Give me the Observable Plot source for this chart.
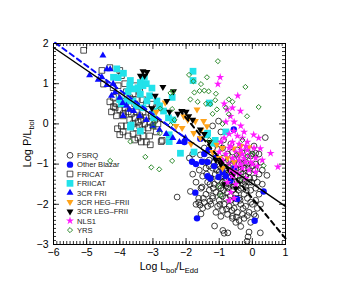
<!DOCTYPE html>
<html><head><meta charset="utf-8">
<script src="https://cdn.jsdelivr.net/npm/d3@7"></script>
<script src="https://cdn.jsdelivr.net/npm/@observablehq/plot@0.6"></script>
<style>
html,body{margin:0;padding:0;background:#fff;}
#chart{position:relative;width:356px;height:285px;}
</style></head><body><div id="chart"></div>
<script>
// ---- data: [Log Lbol/LEdd, Log P/Lbol] ----
const fsrq = [
[-2.27,-1.82],[-1.87,-1.68],[-1.52,-1.57],[-1.55,-2.24],[-1.62,-1.95],[-1.45,-1.95],[-1.35,-2.05],[-1.14,-2.54],[-0.89,-2.65],[-0.85,-2.72],
[-0.74,-2.71],[-0.13,-2.81],[-0.16,-2.92],[0.24,-2.71],[0.39,-0.34],[0.44,-1.28],[-1.02,0.07],[-1.57,-0.77],[-1.45,-0.6],[-1.8,-0.75],
[-1.9,-0.85],[-0.95,-0.2],[-0.2,-0.95],[0.05,-0.55],[0.2,-0.75],[0.3,-1.15],[0.25,-0.95],[-0.05,-2.45],[0.1,-2.3],[0.15,-2.1],
[-0.35,-2.55],[-0.5,-2.45],[-0.6,-2.3],[-0.95,-2.3],[-1.1,-2.2],[-1.25,-2.0],[-1.2,-1.85],[-1.4,-1.75],[-1.7,-2.0],[-1.5,-2.1],
[-1.3,-0.9],[-1.2,-1.1],[-1.1,-0.8],[-1.05,-1.0],[-1.0,-1.2],[-0.95,-0.9],[-0.9,-1.05],[-0.85,-1.25],[-0.8,-0.95],[-0.75,-1.15],
[-0.7,-1.35],[-0.65,-1.05],[-0.6,-1.25],[-0.55,-0.9],[-0.5,-1.1],[-0.45,-1.3],[-0.4,-1.0],[-0.35,-1.2],[-0.3,-0.85],[-0.25,-1.1],
[-0.2,-1.3],[-0.15,-1.0],[-0.1,-1.2],[-0.05,-0.8],[0.0,-1.05],[-1.25,-1.35],[-1.15,-1.5],[-1.05,-1.4],[-0.95,-1.6],[-0.9,-1.45],
[-0.8,-1.55],[-0.75,-1.7],[-0.7,-1.5],[-0.6,-1.65],[-0.55,-1.45],[-0.5,-1.75],[-0.45,-1.55],[-0.4,-1.85],[-0.35,-1.6],[-0.3,-1.4],
[-0.25,-1.75],[-0.2,-1.55],[-0.15,-1.85],[-0.1,-1.45],[-0.05,-1.65],[0.05,-1.35],[0.1,-1.6],[-1.3,-1.65],[-1.2,-1.8],[-1.1,-1.7],
[-1.0,-1.9],[-0.9,-1.8],[-0.85,-2.0],[-0.8,-1.85],[-0.7,-2.05],[-0.65,-1.9],[-0.55,-2.1],[-0.5,-1.95],[-0.45,-2.2],[-0.35,-2.0],
[-0.3,-2.25],[-0.2,-2.05],[-0.25,-2.35],[-0.1,-2.2],[0.0,-2.0],[-0.75,-2.25],[-0.9,-2.15],[-1.05,-2.05],[-0.6,-2.35],[-0.4,-2.4],
[-1.2,-0.6],[-0.9,-0.6],[-0.75,-0.75],[-0.6,-0.7],[-0.45,-0.65],[-0.3,-0.6],[-0.15,-0.7],[0.0,-0.75],[-1.0,-0.5],[-0.65,-0.5],
[-1.4,-1.1],[-1.5,-1.3],[-1.35,-1.45],[-1.6,-1.15],[-1.45,-0.95],[-1.55,-1.6],[-1.7,-1.45],[-1.8,-1.25],[0.1,-1.0],[0.2,-1.25],
[0.15,-1.45],[0.3,-1.5],[0.2,-1.75],[0.1,-1.9],[0.25,-2.0],[0.05,-2.25],[-1.2,-0.05],[-0.87,-0.4],[0.1,-0.73],[-0.1,-2.69],
[-1.15,-0.95],[-1.08,-1.15],[-0.98,-1.05],[-0.92,-1.3],[-0.88,-0.85],[-0.82,-1.1],[-0.78,-1.4],[-0.72,-0.9],[-0.68,-1.2],[-0.62,-1.45],
[-0.58,-1.0],[-0.52,-1.3],[-0.48,-0.85],[-0.42,-1.15],[-0.38,-1.4],[-0.32,-1.0],[-0.28,-1.25],[-0.22,-1.45],[-0.12,-1.1],[-0.08,-1.35],
[-1.12,-1.25],[-1.02,-1.55],[-0.97,-1.75],[-0.87,-1.65],[-0.83,-1.4],[-0.72,-1.6],[-0.67,-1.8],[-0.57,-1.55],[-0.52,-1.85],[-0.42,-1.65],
[-0.37,-1.9],[-0.27,-1.5],[-0.18,-1.65],[-1.18,-1.6],[-1.28,-1.5],[-1.38,-1.25],[-1.3,-1.05],[-1.62,-1.85],[-1.48,-1.85],[-1.28,-1.92],
[-1.58,-2.02],[-0.98,-2.0],[-0.78,-2.12],[-0.62,-2.15],[-0.48,-2.32],[-0.28,-2.1],[-0.15,-2.28],[-0.05,-1.95],[-0.02,-1.45],[0.08,-1.15]
];
const otherBlazar = [
[-0.56,-0.14],[-1.57,-0.37],[-1.82,-0.94],[-1.7,-1.0],[-1.32,-0.65],[-1.52,-0.94],[-1.35,-0.95],[-1.27,-1.36],[-1.35,-1.3],[-1.02,-1.32],
[-0.66,-1.41],[-0.8,-1.3],[-0.46,-1.87],[-1.72,-1.71],[-1.67,-2.35],[0.07,-2.41],[0.34,-1.68],[-0.9,-1.2],[-1.15,-1.05],[-0.55,-1.1],
[-1.45,-0.75],[-2.05,-0.45],[-1.1,-0.85]
];
const fricat = [
[-5.09,1.83],[-4.54,1.33],[-4.3,1.4],[-4.0,1.33],[-3.95,1.2],[-4.49,0.99],[-4.2,0.9],[-4.05,0.95],[-3.85,1.0],[-3.55,0.95],
[-4.19,0.66],[-4.3,0.55],[-4.1,0.5],[-4.14,0.4],[-3.95,0.7],[-3.8,0.8],[-3.7,0.65],[-3.6,0.75],[-3.5,0.6],[-3.4,0.8],
[-3.3,0.6],[-3.2,0.5],[-3.02,0.49],[-2.9,0.4],[-4.0,0.35],[-3.9,0.2],[-3.85,0.4],[-3.75,0.3],[-3.7,0.1],[-3.65,0.25],
[-3.6,0.0],[-3.55,0.15],[-3.5,0.3],[-3.5,-0.1],[-3.45,0.05],[-3.4,0.2],[-3.4,-0.05],[-3.35,0.1],[-3.3,-0.15],[-3.3,0.3],
[-3.25,0.0],[-3.2,0.15],[-3.15,-0.1],[-3.1,0.05],[-3.05,0.2],[-3.0,-0.05],[-2.95,0.1],[-3.8,-0.05],[-3.9,-0.2],[-4.07,-0.12],
[-4.0,-0.27],[-3.75,-0.3],[-3.6,-0.25],[-3.45,-0.35],[-3.3,-0.3],[-3.2,-0.45],[-3.08,-0.52],[-2.75,-0.44],[-2.72,-0.41],[-3.1,-0.3],
[-2.9,-0.2],[-2.85,0.0],[-3.65,0.45],[-3.55,0.5],[-4.1,0.2],[-4.25,0.3],[-3.95,-0.05],[-3.55,-0.4],[-3.35,-0.45],[-4.19,0.43],
[-3.89,0.25]
];
const friicat = [
[-4.09,1.37],[-3.89,1.26],[-4.19,1.16],[-4.05,1.15],[-3.68,1.08],[-3.38,1.03],[-3.26,1.16],[-3.3,0.95],[-3.58,0.87],[-3.45,0.9],
[-3.38,0.74],[-3.03,0.89],[-3.78,0.57],[-3.6,0.57],[-3.18,0.57],[-2.88,0.57],[-2.98,0.32],[-2.68,0.32],[-2.42,0.66],[-1.79,1.31],
[-1.79,1.08],[-2.53,0.15],[-2.4,0.1],[-3.68,-0.08],[-3.38,-0.18],[-2.98,0.15],[-2.51,-0.27],[-2.51,-0.44],[-2.17,-0.73],[-1.37,-0.27],
[-1.17,-0.48],[-3.5,0.45],[-3.3,0.4],[-3.75,0.8],[-3.1,0.7],[-2.8,0.45],[-3.7,0.95],[-4.0,0.6],[-3.95,0.5],[-3.2,1.0],
[-1.76,-0.7],[-0.8,-0.2],[-1.3,0.52],[-1.35,-0.23],[-1.12,-0.41],[-3.66,-0.03]
];
const fri3cr = [
[-4.51,1.70],[-4.91,1.21],[-4.54,1.16],[-4.39,1.36],[-4.29,1.36],[-4.65,1.1],[-4.39,0.97],[-4.2,1.0],[-4.14,0.79],[-4.25,0.7],
[-3.91,0.52],[-3.8,0.45],[-3.7,0.35],[-3.58,0.32],[-3.4,0.2],[-3.2,0.1],[-3.0,-0.05],[-2.8,-0.15],[-2.6,-0.25],[-2.4,-0.35],
[-2.02,-0.35],[-2.2,-0.45],[-3.9,0.2],[-4.0,0.65]
];
const hegFrii = [
[-2.63,0.53],[-1.67,0.36],[-2.07,0.19],[-1.95,0.1],[-1.72,0.07],[-2.12,-0.10],[-1.77,-0.23],[-1.47,0.07],[-1.57,-0.35],[-1.37,-0.06],
[-1.07,-0.52],[-0.9,-0.6],[-0.56,-0.61],[-0.35,-0.55],[-0.11,-0.58],[-0.75,-0.85],[-0.55,-0.95],[-0.9,-1.1],[-1.3,-0.45],[-1.85,-0.5],
[-2.3,-0.05],[-2.9,0.3],[-1.55,-0.15],[-0.6,-1.2],[-1.0,-0.85],[-0.4,-0.75],[-1.2,-0.7]
];
const legFrii = [
[-3.30,1.31],[-3.18,1.29],[-3.25,1.2],[-3.38,1.2],[-2.70,0.92],[-2.38,0.81],[-2.58,0.57],[-2.93,0.70],[-3.03,0.39],[-2.12,0.32],
[-2.0,0.3],[-1.92,0.19],[-1.8,0.1],[-1.57,-0.14],[-1.45,-0.25],[-1.3,-0.45],[-0.95,-1.0],[-0.7,-1.15],[-0.6,-1.3],[-0.85,-1.5],
[-0.5,-1.6],[-1.1,-0.9],[-2.5,0.3],[-2.25,0.25]
];
const nls1 = [
[-1.04,0.99],[-0.97,1.16],[-0.76,0.36],[-0.44,0.70],[-0.66,0.19],[-0.36,0.32],[-0.8,0.05],[-0.56,-0.18],[-0.7,-0.25],[-0.45,-0.3],
[-0.3,-0.35],[0.04,-0.27],[0.19,-0.35],[0.24,-0.61],[0.55,-0.73],[0.77,-1.07],[-0.85,-0.35],[-0.6,-0.45],[-0.4,-0.5],[-0.2,-0.55],
[-0.7,-0.6],[-0.5,-0.7],[-0.3,-0.75],[-0.1,-0.8],[0.1,-0.85],[-0.8,-0.75],[-0.6,-0.85],[-0.4,-0.9],[-0.2,-0.95],[0.0,-1.0],
[-0.7,-1.0],[-0.5,-1.05],[-0.3,-1.1],[-0.1,-1.15],[0.1,-1.2],[-0.6,-1.3],[-0.4,-1.25],[-0.2,-1.35],[-0.75,-1.45],
[-0.5,-1.5],[-0.65,-1.7],[-0.7,-1.9],[-0.55,-1.85],[-0.9,-0.9],[-1.0,-0.7],[-0.95,-0.45],[-0.25,-0.2],
[-0.15,-0.45],[0.05,-0.6],[-0.35,-0.05],[-0.55,0.05],[-0.85,0.5],[-0.6,0.4],
[-0.65,-0.55],[-0.45,-0.8],[-0.35,-0.65],[-0.25,-0.85],[-0.15,-0.65],[-0.05,-0.95],[-0.55,-1.2],[-0.35,-1.0],
[-0.65,-1.15],[0.15,-1.05],[0.3,-0.9]
];
const yrs = [
[-1.04,1.56],[-1.91,1.22],[-1.78,1.06],[-1.55,0.99],[-1.37,1.16],[-0.21,0.92],[-1.59,0.82],[-1.45,0.83],[-1.32,0.81],[-1.75,0.78],
[-1.87,0.61],[-1.12,0.59],[-1.27,0.49],[-1.07,0.36],[-0.71,0.61],[-0.6,0.55],[-0.71,0.24],[-0.16,0.19],[0.19,0.42],[-2.78,0.38],
[-2.98,-0.06],[-3.68,-0.44],[-4.29,-0.92],[-3.23,-0.82],[-3.05,-1.08],[-2.81,-1.13],[-2.42,-0.92],[-2.79,-0.23],[-1.4,0.5],[-1.2,0.25],
[-0.9,0.0],[-0.48,-0.77],[-0.15,-0.8],[0.0,-0.75],[0.34,-1.04],[-0.96,-1.78],[-0.7,-1.05],[-1.65,0.55],[-1.1,0.75],[-0.8,0.4],
[-2.35,0.1],[-0.3,-0.4],[-1.0,-1.55],[-0.4,-1.4],[-1.3,-0.4],[-2.47,0.77],[-2.4,0.8],[-2.42,0.37],[-2.47,-0.03],[-2.97,0.02]
];
// fit lines (end points)
const solidFit = [[-6,1.9],[1,-2.05]];
const blueFit = [[-5.95,2.02],[-1.9,-0.42]];
const blackFit = [[-2.2,0.35],[1,-2.85]];
// axes
const xTicks = [-6,-5,-4,-3,-2,-1,0,1];
const yTicks = [-3,-2,-1,0,1,2];
const xMinor = d3.range(-60, 11).map(d => d / 10);
const yMinor = d3.range(-30, 21).map(d => d / 10);
const legendNames = ["FSRQ","Other Blazar","FRICAT","FRIICAT","3CR FRI","3CR HEG\u2013FRII","3CR LEG\u2013FRII","NLS1","YRS"];

const W = 356, H = 285, mL = 53, mR = 71, mT = 43, mB = 41;
const iw = W - mL - mR, ih = H - mT - mB;

const triDown = {draw(ctx, size) {
  const y = -Math.sqrt(size / (Math.sqrt(3) * 3));
  ctx.moveTo(0, -y * 2); ctx.lineTo(-Math.sqrt(3) * y, y); ctx.lineTo(Math.sqrt(3) * y, y); ctx.closePath();
}};
const CYAN = "#22e2ea", BLUE = "#0a0aff", ORANGE = "#ffa31a", MAG = "#ff1aff", GREEN = "#2e8b2e";
const styles = [
  {data: fsrq, symbol: "circle", r: 2.9, fill: "none", stroke: "#111", strokeWidth: 0.8},
  {data: otherBlazar, symbol: "circle", r: 3.2, fill: BLUE, stroke: "none"},
  {data: fricat, symbol: "square", r: 3.2, fill: "none", stroke: "#222", strokeWidth: 0.8},
  {data: friicat, symbol: "square", r: 3.8, fill: CYAN, stroke: "none"},
  {data: fri3cr, symbol: "triangle", r: 2.6, fill: BLUE, stroke: "none"},
  {data: hegFrii, symbol: triDown, r: 2.6, fill: ORANGE, stroke: "none"},
  {data: legFrii, symbol: triDown, r: 2.6, fill: "#000", stroke: "none"},
  {data: nls1, symbol: "star", r: 2.5, fill: MAG, stroke: "none"},
  {data: yrs, symbol: "diamond2", r: 2.3, fill: "none", stroke: GREEN, strokeWidth: 1}
];
const fmt = d => (d < 0 ? "\u2212" : "") + Math.abs(d);

const svg = Plot.plot({
  width: W, height: H, marginLeft: mL, marginRight: mR, marginTop: mT, marginBottom: mB,
  style: {fontFamily: "'Liberation Sans', Arial, sans-serif", fontSize: "10.5px", color: "#000", background: "#fff"},
  x: {domain: [-6, 1]},
  y: {domain: [-3, 2]},
  marks: [
    ...styles.map(s => Plot.dot(s.data, {x: d => d[0], y: d => d[1], symbol: s.symbol, r: s.r, fill: s.fill, stroke: s.stroke, strokeWidth: s.strokeWidth || 1})),
    Plot.line(solidFit, {x: d => d[0], y: d => d[1], stroke: "#000", strokeWidth: 1.4}),
    Plot.line(blueFit, {x: d => d[0], y: d => d[1], stroke: BLUE, strokeWidth: 2, strokeDasharray: "5,4"}),
    Plot.line(blackFit, {x: d => d[0], y: d => d[1], stroke: "#000", strokeWidth: 2, strokeDasharray: "5,4"}),
    Plot.frame({stroke: "#000", strokeWidth: 1}),
    // inward ticks
    Plot.tickX(xMinor, {x: d => d, insetTop: ih - 3, stroke: "#000", strokeWidth: 0.8}),
    Plot.tickX(xMinor, {x: d => d, insetBottom: ih - 3, stroke: "#000", strokeWidth: 0.8}),
    Plot.tickX(xTicks, {x: d => d, insetTop: ih - 6, stroke: "#000", strokeWidth: 0.8}),
    Plot.tickX(xTicks, {x: d => d, insetBottom: ih - 6, stroke: "#000", strokeWidth: 0.8}),
    Plot.tickY(yMinor, {y: d => d, insetRight: iw - 3, stroke: "#000", strokeWidth: 0.8}),
    Plot.tickY(yMinor, {y: d => d, insetLeft: iw - 3, stroke: "#000", strokeWidth: 0.8}),
    Plot.tickY(yTicks, {y: d => d, insetRight: iw - 6, stroke: "#000", strokeWidth: 0.8}),
    Plot.tickY(yTicks, {y: d => d, insetLeft: iw - 6, stroke: "#000", strokeWidth: 0.8}),
    Plot.axisX({ticks: xTicks, tickSize: 0, tickPadding: 4, tickFormat: fmt, label: null}),
    Plot.axisY({ticks: yTicks, tickSize: 0, tickPadding: 5, tickFormat: fmt, label: null})
  ]
});

const s = d3.select(svg);
const font = "'Liberation Sans', Arial, sans-serif";
// axis titles with subscripts
const xt = s.append("text").attr("x", mL + iw / 2).attr("y", 270).attr("text-anchor", "middle")
  .attr("font-family", font).attr("font-size", 10.5).attr("fill", "#000");
xt.append("tspan").text("Log L");
xt.append("tspan").attr("font-size", 7.5).attr("dy", 3).text("bol");
xt.append("tspan").attr("dy", -3).text("/L");
xt.append("tspan").attr("font-size", 7.5).attr("dy", 3).text("Edd");
const yt = s.append("text").attr("transform", `translate(31,${mT + ih / 2}) rotate(-90)`).attr("text-anchor", "middle")
  .attr("font-family", font).attr("font-size", 11).attr("fill", "#000");
yt.append("tspan").text("Log P/L");
yt.append("tspan").attr("font-size", 7.5).attr("dy", 3).text("bol");

// legend
const lg = s.append("g").attr("font-family", font).attr("font-size", 7.6).attr("text-anchor", "start");
const symMap = {circle: d3.symbolCircle, square: d3.symbolSquare, triangle: d3.symbolTriangle, star: d3.symbolStar, diamond2: d3.symbolDiamond2};
styles.forEach((st, i) => {
  const cy = 155.3 + i * 9.35;
  const type = typeof st.symbol === "string" ? symMap[st.symbol] : st.symbol;
  lg.append("path").attr("transform", `translate(70,${cy})`)
    .attr("d", d3.symbol(type, Math.PI * st.r * st.r)())
    .attr("fill", st.fill).attr("stroke", st.stroke).attr("stroke-width", st.strokeWidth || 1);
  lg.append("text").attr("x", 77).attr("y", cy + 2.8).attr("fill", "#222").text(legendNames[i]);
});

document.getElementById("chart").appendChild(svg);
</script></body></html>
